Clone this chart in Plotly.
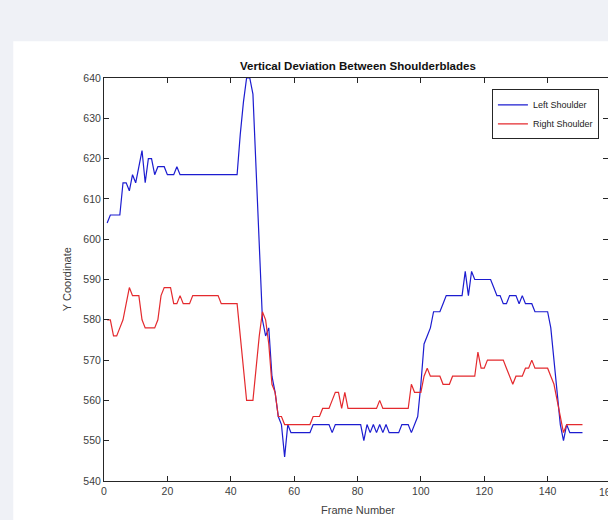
import plotly.graph_objects as go

# Left shoulder Y coordinate per frame (frames 1..151)
left_shoulder = [
    604, 606, 606, 606, 606, 614, 614, 612, 616, 614,
    618, 622, 614, 620, 620, 616, 618, 618, 618, 616,
    616, 616, 618, 616, 616, 616, 616, 616, 616, 616,
    616, 616, 616, 616, 616, 616, 616, 616, 616, 616,
    616, 616, 626, 634, 640, 640, 636, 616, 596, 580,
    576, 578, 566, 562, 556, 554, 546, 554, 552, 552,
    552, 552, 552, 552, 552, 554, 554, 554, 554, 554,
    554, 552, 554, 554, 554, 554, 554, 554, 554, 554,
    554, 550, 554, 552, 554, 552, 554, 552, 554, 552,
    552, 552, 552, 554, 554, 554, 552, 554, 556, 564,
    574, 576, 578, 582, 582, 582, 584, 586, 586, 586,
    586, 586, 586, 592, 586, 592, 590, 590, 590, 590,
    590, 590, 588, 586, 586, 584, 584, 586, 586, 586,
    584, 586, 584, 584, 584, 582, 582, 582, 582, 582,
    578, 570, 562, 554, 550, 554, 552, 552, 552, 552, 552,
]

# Right shoulder Y coordinate per frame
right_shoulder = [
    580, 580, 576, 576, 578, 580, 584, 588, 586, 586,
    586, 580, 578, 578, 578, 578, 580, 586, 588, 588,
    588, 584, 584, 586, 584, 584, 584, 586, 586, 586,
    586, 586, 586, 586, 586, 586, 584, 584, 584, 584,
    584, 584, 576, 568, 560, 560, 560, 568, 576, 582,
    580, 574, 564, 562, 556, 556, 554, 554, 554, 554,
    554, 554, 554, 554, 554, 556, 556, 556, 558, 558,
    558, 560, 562, 562, 558, 562, 558, 558, 558, 558,
    558, 558, 558, 558, 558, 558, 560, 558, 558, 558,
    558, 558, 558, 558, 558, 558, 564, 562, 562, 562,
    566, 568, 566, 566, 566, 566, 564, 564, 564, 566,
    566, 566, 566, 566, 566, 566, 566, 572, 568, 568,
    570, 570, 570, 570, 570, 570, 568, 566, 564, 566,
    566, 566, 568, 568, 570, 568, 568, 568, 568, 568,
    566, 564, 560, 556, 552, 554, 554, 554, 554, 554, 554,
]

frames = list(range(1, len(left_shoulder) + 1))

x_ticks = [0, 20, 40, 60, 80, 100, 120, 140]
y_ticks = [540, 550, 560, 570, 580, 590, 600, 610, 620, 630, 640]

FONT = "Liberation Sans, Arial, Helvetica, sans-serif"
AX = "#262626"
LBL = "#404040"
BG = "#eff1f6"

fig = go.Figure()
fig.add_trace(go.Scatter(x=frames, y=left_shoulder, mode="lines", name="Left Shoulder",
                         line=dict(color="#1c1cd0", width=1.2)))
fig.add_trace(go.Scatter(x=frames, y=right_shoulder, mode="lines", name="Right Shoulder",
                         line=dict(color="#e42a2e", width=1.2)))
fig.add_trace(go.Scatter(x=[None], y=[None], yaxis="y2", showlegend=False, hoverinfo="skip"))

axis_common = dict(showgrid=False, zeroline=False, ticks="inside", ticklen=5,
                   tickcolor=AX, tickwidth=1, linecolor=AX, linewidth=1,
                   tickfont=dict(family=FONT, size=10.5, color=LBL))

fig.update_layout(
    width=608, height=520,
    margin=dict(l=104, r=0, t=78, b=39),
    paper_bgcolor=BG,
    plot_bgcolor="white",
    font=dict(family=FONT),
    xaxis=dict(range=[0, 159.05], tickvals=x_ticks, showline=True, mirror="ticks", **axis_common),
    yaxis=dict(range=[540, 640], tickvals=y_ticks, showline=True, mirror=False, **axis_common),
    yaxis2=dict(range=[540, 640], tickvals=y_ticks, overlaying="y", side="right",
                showline=False, showticklabels=False, showgrid=False, zeroline=False,
                ticks="inside", ticklen=5, tickcolor=AX),
    showlegend=True,
    legend=dict(x=0.982, y=0.972, xanchor="right", yanchor="top",
                bgcolor="white", bordercolor=AX, borderwidth=1,
                font=dict(family=FONT, size=9, color="#222222"),
                tracegroupgap=0, itemwidth=30),
    shapes=[dict(type="rect", xref="paper", yref="paper", x0=-0.18, x1=1.1,
                 y0=-0.2, y1=1.091, fillcolor="white", line=dict(width=0), layer="below")],
    annotations=[
        dict(text="<b>Vertical Deviation Between Shoulderblades</b>", xref="paper", yref="paper",
             x=0.503, y=1.029, xanchor="center", yanchor="middle", showarrow=False,
             font=dict(family=FONT, size=11.5, color="#111111")),
        dict(text="Frame Number", xref="paper", yref="paper", x=0.503, y=-0.072,
             xanchor="center", yanchor="middle", showarrow=False,
             font=dict(family=FONT, size=11, color=LBL)),
        dict(text="Y Coordinate", xref="paper", yref="paper", x=-0.074, y=0.5,
             xanchor="center", yanchor="middle", textangle=-90, showarrow=False,
             font=dict(family=FONT, size=11, color=LBL)),
        dict(text="160", xref="paper", yref="paper", x=1.0, y=-0.027,
             xanchor="center", yanchor="middle", showarrow=False,
             font=dict(family=FONT, size=10.5, color=LBL)),
    ],
)

fig.write_html(
    "out.html",
    config={"displayModeBar": False},
    post_script=("document.body.style.margin='0';"
                 "document.body.style.overflow='hidden';"
                 "document.body.style.background='" + BG + "';"),
)
